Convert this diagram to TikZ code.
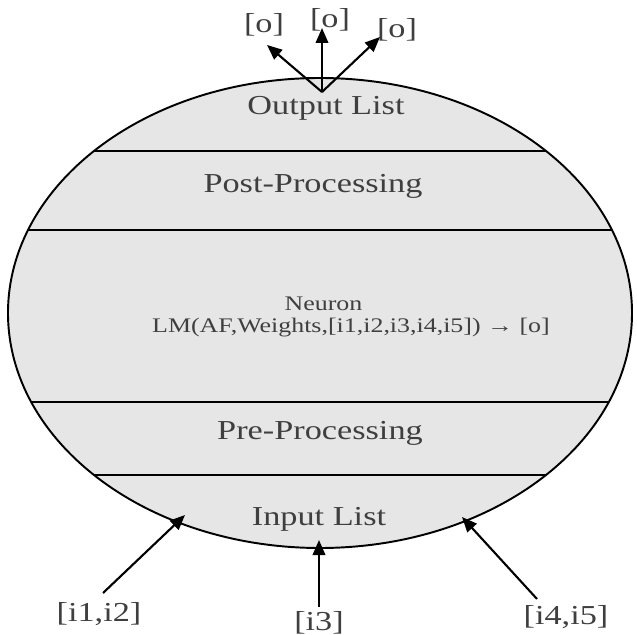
\documentclass[tikz,border=0pt]{standalone}
\usepackage{fontspec}
\setmainfont{Liberation Serif}[FakeStretch=1.25]
\usetikzlibrary{arrows.meta}
\definecolor{cellfill}{HTML}{E6E6E6}
\definecolor{labeltext}{HTML}{3F3F3F}

\begin{document}
\begin{tikzpicture}[layer/.style={text=labeltext,font=\fontsize{15.6}{18}\selectfont},small/.style={layer,font=\fontsize{11.8}{14}\selectfont},chord/.style={line width=1.1pt},flow/.style={line width=1.2pt,-{Triangle[length=0.30cm,width=0.25cm]}}]
\def\ea{6.24};
\def\eb{4.70};

\useasboundingbox (-6.40,-6.42) rectangle (6.34,6.26);

\fill[cellfill] (0,0) ellipse ({\ea} and {\eb});
\begin{scope}
\clip (0,0) ellipse ({\ea} and {\eb});
\foreach \y in {3.24,1.66,-1.78,-3.24}
  \draw[chord] (-\ea,\y) -- (\ea,\y);
\end{scope}
\draw[chord] (0,0) ellipse ({\ea} and {\eb});

\node[layer] (outlist) at (0.12,4.10) {Output List};
\node[layer] (postproc) at (-0.14,2.54) {Post-Processing};
\node[small] (neuron) at (0.07,0.19) {Neuron};
\node[small] (neuronfn) at (0.62,-0.30) {LM(AF,Weights,[i1,i2,i3,i4,i5]) → [o]};
\node[layer] (preproc) at (0,-2.40) {Pre-Processing};
\node[layer] (inlist) at (-0.02,-4.12) {Input List};

% outputs
\coordinate (osrc) at (0.04,4.42);
\node[layer] (oa) at (-1.12,5.76) {[o]};
\coordinate (oatip) at (-1.06,5.36);
\draw[flow] (osrc) -- (oatip);
\node[layer] (ob) at (0.20,5.86) {[o]};
\coordinate (obtip) at (0.04,5.70);
\draw[flow] (osrc) -- (obtip);
\node[layer] (oc) at (1.54,5.66) {[o]};
\coordinate (octip) at (1.20,5.52);
\draw[flow] (osrc) -- (octip);

% inputs
\node[layer] (i12) at (-4.42,-6.02) {[i1,i2]};
\coordinate (i12end) at (-4.34,-5.60);
\coordinate (i12tip) at (-2.70,-4.04);
\draw[flow] (i12end) -- (i12tip);
\node[layer] (i3) at (-0.02,-6.20) {[i3]};
\coordinate (i3end) at (-0.02,-5.88);
\coordinate (i3tip) at (-0.02,-4.54);
\draw[flow] (i3end) -- (i3tip);
\node[layer] (i45) at (4.92,-6.08) {[i4,i5]};
\coordinate (i45end) at (4.34,-5.72);
\coordinate (i45tip) at (2.84,-4.08);
\draw[flow] (i45end) -- (i45tip);
\end{tikzpicture}
\end{document}
